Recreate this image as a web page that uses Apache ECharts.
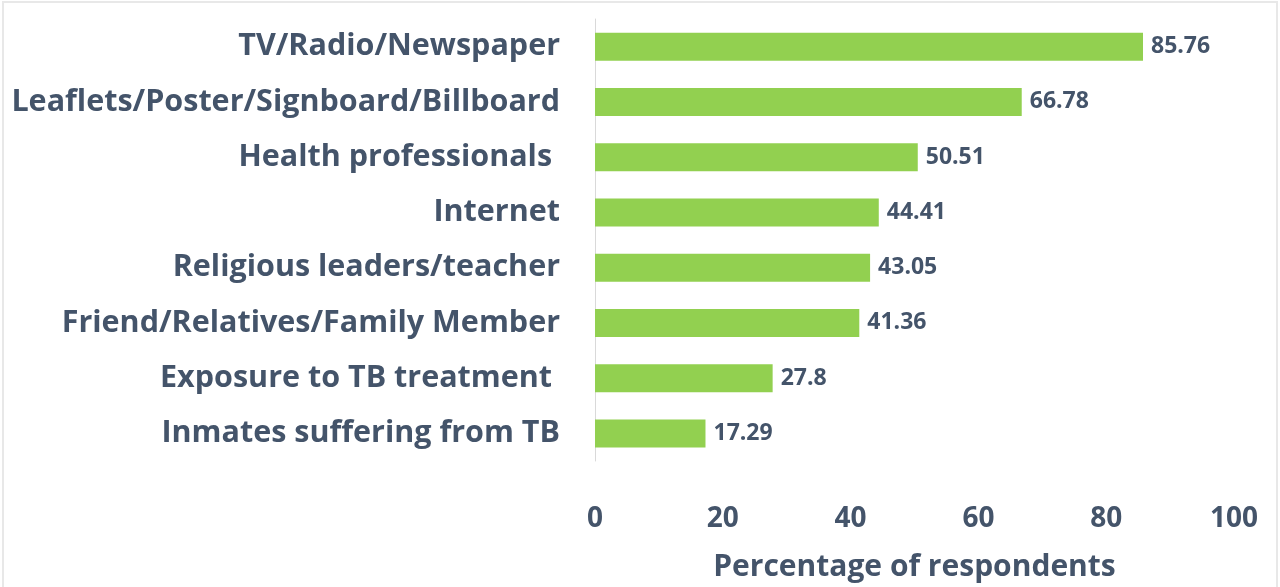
<!DOCTYPE html>
<html lang="en">
<head>
    <meta charset="UTF-8">
    <title>Sources of TB information</title>
    <script type="text/javascript" src="https://cdn.jsdelivr.net/npm/echarts@6/dist/echarts.min.js"></script>
    <style>
        html, body { margin: 0; padding: 0; background: #fff; }
    </style>
</head>
<body>
<div id="main" style="height: 587px; width: 1280px"></div>
<script>
    // categories top to bottom, values in percent
    let categories = [
        'TV/Radio/Newspaper',
        'Leaflets/Poster/Signboard/Billboard',
        'Health professionals ',
        'Internet',
        'Religious leaders/teacher',
        'Friend/Relatives/Family Member',
        'Exposure to TB treatment ',
        'Inmates suffering from TB'
    ];
    let percents = [85.76, 66.78, 50.51, 44.41, 43.05, 41.36, 27.8, 17.29];
    let xTicks = [0, 20, 40, 60, 80, 100];

    let textColor = '#44546A';
    let font = '"Open Sans", Lato, sans-serif';

    let myChart = echarts.init(document.getElementById('main'));
    let option = {
        animation: false,
        textStyle: { fontFamily: font },
        graphic: [{
            type: 'rect',
            shape: { x: 3, y: 2, width: 1274, height: 600 },
            style: { fill: 'none', stroke: '#e8e8e8', lineWidth: 2 },
            silent: true
        }],
        grid: { left: 595, right: 46, top: 19, bottom: 117 },
        xAxis: {
            type: 'value',
            min: xTicks[0],
            max: xTicks[xTicks.length - 1],
            interval: 20,
            name: 'Percentage of respondents',
            nameLocation: 'middle',
            nameGap: 91,
            nameTextStyle: { color: textColor, fontSize: 30, fontWeight: 'bold', fontFamily: font },
            axisLine: { show: false },
            axisTick: { show: false },
            splitLine: { show: false },
            axisLabel: { color: textColor, fontSize: 28, fontWeight: 'bold', margin: 44, fontFamily: font }
        },
        yAxis: {
            type: 'category',
            inverse: true,
            data: categories,
            axisLine: { lineStyle: { color: '#d9d9d9', width: 1 } },
            axisTick: { show: false },
            axisLabel: { color: textColor, fontSize: 30.5, fontWeight: 'bold', margin: 35, fontFamily: font }
        },
        series: [{
            type: 'bar',
            data: percents,
            barWidth: 28,
            itemStyle: { color: '#92D050' },
            label: {
                show: true,
                position: 'right',
                distance: 8,
                color: textColor,
                fontSize: 23,
                fontWeight: 'bold',
                fontFamily: font
            }
        }]
    };
    myChart.setOption(option);
</script>
</body>
</html>
